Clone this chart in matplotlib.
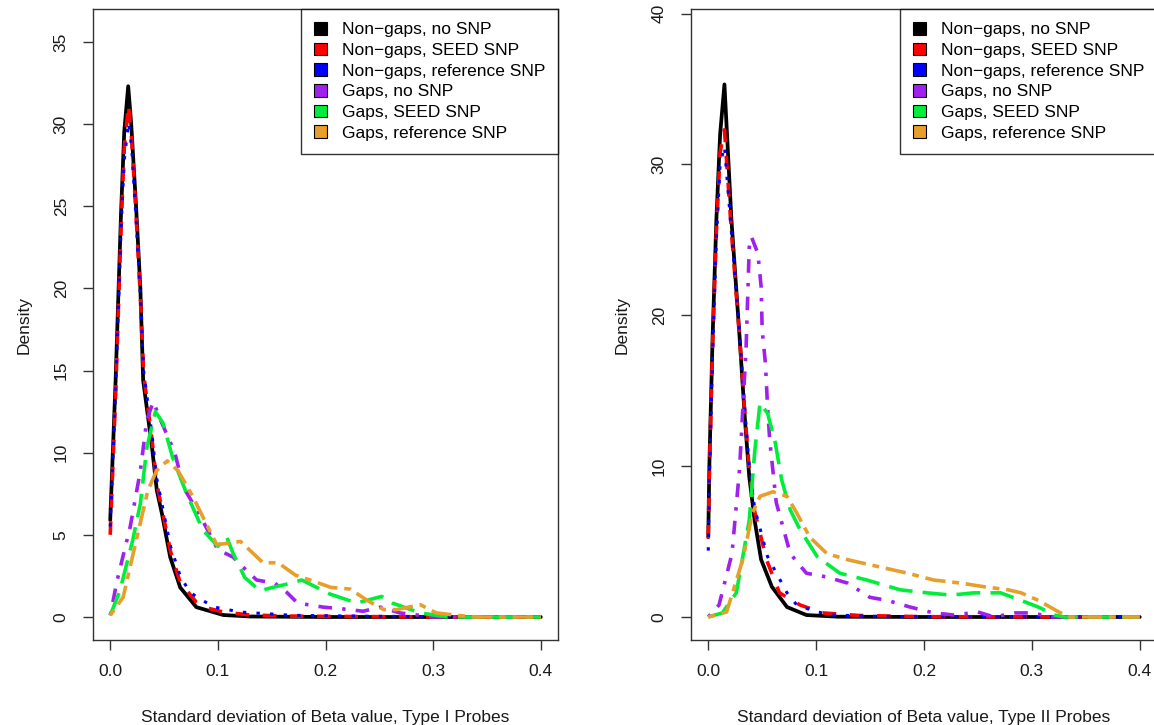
import matplotlib
matplotlib.use("Agg")
import matplotlib.pyplot as plt
from matplotlib.patches import Patch

plt.rcParams["font.family"] = ["Liberation Sans", "DejaVu Sans"]
plt.rcParams["lines.scale_dashes"] = False

LABELS = ["Non\u2212gaps, no SNP", "Non\u2212gaps, SEED SNP", "Non\u2212gaps, reference SNP",
          "Gaps, no SNP", "Gaps, SEED SNP", "Gaps, reference SNP"]
COLORS = ["black", "red", "blue", "#A020F0", "#00EE3A", "#E69F2A"]

# ---- Type I probes (left panel) ----
t1_black_x = [0.0, 0.005, 0.010, 0.013, 0.0167, 0.0195, 0.024, 0.028, 0.0306, 0.0387, 0.0433, 0.048,
              0.0557, 0.065, 0.080, 0.105, 0.13, 0.2, 0.4]
t1_black_y = [5.9, 14.4, 24.5, 29.5, 32.3, 30.0, 25.0, 20.0, 14.4, 10.4, 7.7, 6.3,
              3.65, 1.8, 0.6, 0.12, 0.03, 0.0, 0.0]
t1_red_x = [0.0, 0.005, 0.010, 0.013, 0.017, 0.020, 0.024, 0.028, 0.031, 0.039, 0.043, 0.048,
            0.056, 0.065, 0.080, 0.090, 0.105, 0.13, 0.17, 0.25, 0.4]
t1_red_y = [5.0, 13.5, 23.5, 28.5, 31.2, 29.0, 24.5, 19.5, 14.8, 10.7, 8.2, 6.6,
            4.0, 2.1, 0.9, 0.55, 0.3, 0.12, 0.05, 0.02, 0.0]
t1_blue_x = [0.0, 0.005, 0.010, 0.013, 0.017, 0.020, 0.024, 0.028, 0.031, 0.039, 0.043, 0.048,
             0.056, 0.065, 0.074, 0.086, 0.097, 0.121, 0.17, 0.25, 0.4]
t1_blue_y = [5.5, 13.8, 23.5, 27.8, 30.1, 28.5, 24.2, 19.5, 15.0, 11.0, 8.5, 6.9,
             4.3, 2.5, 1.5, 1.0, 0.6, 0.3, 0.1, 0.04, 0.0]
t1_purple_x = [0.0, 0.0065, 0.0186, 0.028, 0.034, 0.040, 0.048, 0.060, 0.068, 0.084, 0.100, 0.114,
               0.124, 0.136, 0.153, 0.164, 0.174, 0.198, 0.215, 0.235, 0.251, 0.269, 0.30, 0.4]
t1_purple_y = [0.1, 2.25, 5.5, 8.9, 12.0, 13.1, 11.8, 10.0, 7.9, 6.1, 4.1, 3.65,
               3.0, 2.25, 2.05, 1.5, 0.85, 0.6, 0.5, 0.35, 0.6, 0.25, 0.0, 0.0]
t1_green_x = [0.0, 0.009, 0.021, 0.028, 0.034, 0.042, 0.049, 0.058, 0.071, 0.086, 0.100, 0.108,
              0.114, 0.125, 0.139, 0.151, 0.164, 0.178, 0.204, 0.229, 0.252, 0.262, 0.288, 0.313, 0.4]
t1_green_y = [0.1, 1.6, 4.7, 6.9, 10.3, 12.5, 11.8, 9.7, 7.5, 5.3, 4.3, 4.9,
              3.9, 2.4, 1.6, 1.8, 2.0, 2.25, 1.4, 0.85, 1.25, 0.85, 0.25, 0.0, 0.0]
t1_orange_x = [0.0, 0.012, 0.025, 0.035, 0.043, 0.053, 0.063, 0.077, 0.086, 0.099, 0.111, 0.121,
               0.142, 0.156, 0.172, 0.188, 0.205, 0.223, 0.239, 0.254, 0.266, 0.288, 0.303, 0.322, 0.34, 0.4]
t1_orange_y = [0.1, 1.2, 4.9, 7.7, 8.9, 9.5, 8.9, 7.3, 6.1, 4.4, 4.5, 4.6,
               3.3, 3.3, 2.55, 2.2, 1.8, 1.7, 1.0, 0.45, 0.45, 0.75, 0.25, 0.1, 0.0, 0.0]

# ---- Type II probes (right panel) ----
t2_black_x = [0.0, 0.001, 0.004, 0.0075, 0.011, 0.015, 0.0215, 0.029, 0.034, 0.038, 0.043, 0.049,
              0.059, 0.073, 0.091, 0.12, 0.2, 0.4]
t2_black_y = [5.3, 10.0, 18.5, 26.3, 32.0, 35.3, 26.3, 18.6, 13.1, 9.3, 6.4, 3.8,
              2.0, 0.66, 0.13, 0.02, 0.0, 0.0]
t2_red_x = [0.0, 0.001, 0.004, 0.0075, 0.011, 0.015, 0.0215, 0.029, 0.034, 0.038, 0.043, 0.054,
            0.066, 0.085, 0.106, 0.14, 0.2, 0.4]
t2_red_y = [5.2, 9.5, 18.0, 25.5, 30.8, 32.3, 25.5, 18.6, 13.4, 9.8, 7.0, 3.8,
            1.6, 0.8, 0.27, 0.1, 0.02, 0.0]
t2_blue_x = [0.0, 0.001, 0.004, 0.0075, 0.011, 0.015, 0.0215, 0.029, 0.034, 0.038, 0.043, 0.055,
             0.073, 0.082, 0.100, 0.116, 0.15, 0.2, 0.4]
t2_blue_y = [4.4, 9.0, 17.5, 25.0, 30.0, 31.2, 25.5, 18.8, 13.6, 10.0, 7.2, 4.0,
             1.6, 0.8, 0.35, 0.13, 0.05, 0.02, 0.0]
t2_purple_x = [0.0, 0.010, 0.022, 0.029, 0.035, 0.038, 0.040, 0.046, 0.049, 0.050, 0.053, 0.055,
               0.057, 0.063, 0.076, 0.091, 0.110, 0.129, 0.150, 0.166, 0.187, 0.209, 0.228, 0.250,
               0.265, 0.284, 0.299, 0.32, 0.4]
t2_purple_y = [0.0, 0.8, 4.2, 9.8, 17.7, 24.5, 25.2, 24.1, 21.9, 19.0, 16.8, 13.9,
               11.7, 7.6, 4.2, 2.9, 2.65, 2.25, 1.3, 1.1, 0.66, 0.27, 0.13, 0.33,
               0.0, 0.27, 0.27, 0.0, 0.0]
t2_green_x = [0.0, 0.013, 0.026, 0.038, 0.043, 0.048, 0.055, 0.062, 0.068, 0.076, 0.085, 0.101,
              0.122, 0.147, 0.178, 0.203, 0.225, 0.246, 0.271, 0.290, 0.306, 0.321, 0.33, 0.4]
t2_green_y = [0.0, 0.27, 1.6, 6.4, 10.9, 14.2, 13.5, 11.6, 9.1, 7.1, 5.8, 4.0,
              2.9, 2.45, 1.8, 1.6, 1.45, 1.6, 1.6, 1.1, 0.66, 0.13, 0.0, 0.0]
t2_orange_x = [0.0, 0.017, 0.032, 0.041, 0.048, 0.060, 0.073, 0.082, 0.094, 0.110, 0.129, 0.160,
               0.185, 0.209, 0.234, 0.256, 0.278, 0.290, 0.306, 0.325, 0.335, 0.4]
t2_orange_y = [0.0, 0.33, 3.8, 6.9, 8.0, 8.3, 8.0, 6.9, 5.3, 4.2, 3.8, 3.3,
               2.9, 2.45, 2.25, 2.0, 1.8, 1.6, 1.1, 0.33, 0.0, 0.0]

X_TICKS = [0.0, 0.1, 0.2, 0.3, 0.4]
Y_TICKS_I = [0, 5, 10, 15, 20, 25, 30, 35]
Y_TICKS_II = [0, 10, 20, 30, 40]

# R lty patterns (in units of line width)
U = 2.45
STYLES = [
    "-",
    (0, (4 * U, 4 * U)),
    (0, (1 * U, 3 * U)),
    (0, (1 * U, 3 * U, 4 * U, 3 * U)),
    (0, (7 * U, 3 * U)),
    (0, (2 * U, 2 * U, 6 * U, 2 * U)),
]
WIDTHS = [2.7, 2.6, 2.2, 2.6, 2.6, 2.6]
FS = 12.5
AX_COLOR = "#333333"


def draw_panel(ax, curves, ylim, yticks, xlabel):
    for i, (xs, ys) in enumerate(curves):
        ax.plot(xs, ys, color=COLORS[i], linestyle=STYLES[i], lw=WIDTHS[i],
                dash_capstyle="butt", solid_capstyle="round", solid_joinstyle="round",
                zorder=2 + i)
    ax.set_xlim(-0.016, 0.416)
    ax.set_ylim(*ylim)
    ax.set_xticks(X_TICKS)
    ax.set_xticklabels([f"{v:.1f}" for v in X_TICKS])
    ax.set_yticks(yticks)
    ax.set_yticklabels([str(v) for v in yticks], rotation=90, va="center")
    ax.tick_params(axis="both", length=7.5, width=1.0, color=AX_COLOR,
                   labelsize=FS, labelcolor="#1a1a1a")
    ax.tick_params(axis="x", pad=10)
    ax.tick_params(axis="y", pad=10)
    for s in ax.spines.values():
        s.set_color(AX_COLOR)
        s.set_linewidth(1.0)
    ax.set_xlabel(xlabel, fontsize=FS, color="#1a1a1a", labelpad=22)
    ax.set_ylabel("Density", fontsize=FS, color="#1a1a1a", labelpad=16)
    handles = [Patch(facecolor=c, edgecolor="black", linewidth=0.8) for c in COLORS]
    leg = ax.legend(handles, LABELS, loc="upper right", fontsize=FS, frameon=True,
                    fancybox=False, borderaxespad=0, borderpad=0.75, labelspacing=0.3,
                    handlelength=0.75, handleheight=0.75, handletextpad=0.85)
    leg.get_frame().set_edgecolor("black")
    leg.get_frame().set_linewidth(1.0)
    leg.set_zorder(20)


fig = plt.figure(figsize=(11.54, 7.25), dpi=100)
fig.patch.set_facecolor("white")
ax1 = fig.add_axes([93 / 1154, 1 - 640 / 725, 465 / 1154, 631 / 725])
ax2 = fig.add_axes([691 / 1154, 1 - 640 / 725, 466 / 1154, 631 / 725])

draw_panel(ax1, [(t1_black_x, t1_black_y), (t1_red_x, t1_red_y), (t1_blue_x, t1_blue_y),
                 (t1_purple_x, t1_purple_y), (t1_green_x, t1_green_y), (t1_orange_x, t1_orange_y)],
           (-1.40, 37.0), Y_TICKS_I, "Standard deviation of Beta value, Type I Probes")
draw_panel(ax2, [(t2_black_x, t2_black_y), (t2_red_x, t2_red_y), (t2_blue_x, t2_blue_y),
                 (t2_purple_x, t2_purple_y), (t2_green_x, t2_green_y), (t2_orange_x, t2_orange_y)],
           (-1.525, 40.3), Y_TICKS_II, "Standard deviation of Beta value, Type II Probes")

fig.savefig("out.png", dpi=100, facecolor="white")
plt.close(fig)
